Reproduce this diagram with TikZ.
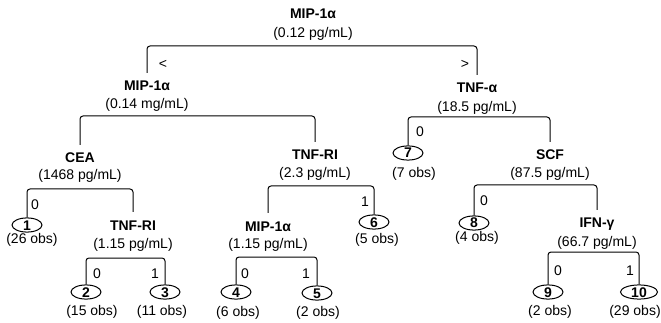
\documentclass[tikz,border=0pt]{standalone}
\usepackage{fontspec}
\setmainfont{Liberation Sans}
\usetikzlibrary{shapes.geometric}
\begin{document}
\begin{tikzpicture}[x=1pt,y=1pt,
  txt/.style={inner sep=0pt, text height=10pt, text depth=0pt, font=\fontsize{14}{16}\selectfont},
  ttl/.style={txt, font=\fontsize{14}{16}\selectfont\bfseries, outer ysep=8pt},
  val/.style={txt},
  lbl/.style={txt},
  leaf/.style={ellipse, draw, line width=1pt, minimum width=30pt, minimum height=13pt,
    inner sep=0pt, text height=10pt, text depth=0pt, font=\fontsize{14}{16}\selectfont\bfseries},
  br/.style={draw, line width=1pt, rounded corners=3pt}]
\useasboundingbox (0,0) rectangle (661,-323);

% root
\node[ttl] (r) at (313,-14) {MIP-1α};
\node[val] (rv) at (313,-33) {(0.12 pg/mL)};
\coordinate (rb) at (313,-46);
\node[ttl] (a) at (147,-86) {MIP-1α};
\node[val] (av) at (147,-104) {(0.14 mg/mL)};
\node[ttl] (b) at (477,-88) {TNF-α};
\node[val] (bv) at (477,-107) {(18.5 pg/mL)};
\draw[br] (a.north) |- (rb) -| (b.north);
\node[lbl] (lt) at (163,-64) {<};
\node[lbl] (gt) at (465,-64) {>};

% level 2 left
\coordinate (ab) at (147,-116);
\node[ttl] (c) at (80,-158) {CEA};
\node[val] (cv) at (80,-175) {(1468 pg/mL)};
\node[ttl] (d) at (315,-155) {TNF-RI};
\node[val] (dv) at (315,-173) {(2.3 pg/mL)};
\draw[br] (c.north) |- (ab) -| (d.north);

% level 2 right
\coordinate (bb) at (477,-117);
\node[leaf] (l7) at (408,-153) {7};
\node[val] (o7) at (414,-173) {(7 obs)};
\node[ttl] (e) at (550,-155) {SCF};
\node[val] (ev) at (550,-173) {(87.5 pg/mL)};
\draw[br] (l7.north) |- (bb) -| (e.north);
\node[lbl] (z7) at (420,-132) {0};

% CEA split
\coordinate (cb) at (80,-189);
\node[leaf] (l1) at (27,-225) {1};
\node[val] (o1) at (32,-238) {(26 obs)};
\node[ttl] (f) at (133,-225) {TNF-RI};
\node[val] (fv) at (133,-243) {(1.15 pg/mL)};
\draw[br] (l1.north) |- (cb) -| (f.north);
\node[lbl] (z1) at (35,-205) {0};

% TNF-RI (2.3) split
\coordinate (db) at (315,-186);
\node[ttl] (g) at (268,-226) {MIP-1α};
\node[val] (gv) at (268,-243) {(1.15 pg/mL)};
\node[leaf] (l6) at (374,-222) {6};
\node[val] (o6) at (377,-238) {(5 obs)};
\draw[br] (g.north) |- (db) -| (l6.north);
\node[lbl] (u6) at (365,-202) {1};

% SCF split
\coordinate (eb) at (550,-185);
\node[leaf] (l8) at (474,-223) {8};
\node[val] (o8) at (477,-236) {(4 obs)};
\node[ttl] (h) at (597,-223) {IFN-γ};
\node[val] (hv) at (597,-242) {(66.7 pg/mL)};
\draw[br] (l8.north) |- (eb) -| (h.north);
\node[lbl] (z8) at (484,-201) {0};

% TNF-RI (1.15) split
\coordinate (fb) at (126,-258);
\node[leaf] (l2) at (86,-292) {2};
\node[val] (o2) at (92,-310) {(15 obs)};
\node[leaf] (l3) at (165,-292) {3};
\node[val] (o3) at (162,-310) {(11 obs)};
\draw[br] (l2.north) |- (fb) -| (l3.north);
\node[lbl] (z2) at (97,-273) {0};
\node[lbl] (u3) at (155,-273) {1};

% MIP-1a (1.15) split
\coordinate (gb) at (276,-257);
\node[leaf] (l4) at (236,-292) {4};
\node[val] (o4) at (238,-311) {(6 obs)};
\node[leaf] (l5) at (317,-293) {5};
\node[val] (o5) at (318,-311) {(2 obs)};
\draw[br] (l4.north) |- (gb) -| (l5.north);
\node[lbl] (z4) at (245,-273) {0};
\node[lbl] (u5) at (306,-273) {1};

% IFN split
\coordinate (hb) at (594,-252);
\node[leaf] (l9) at (548,-292) {9};
\node[val] (o9) at (550,-310) {(2 obs)};
\node[leaf, minimum width=37pt] (l10) at (639,-292) {10};
\node[val] (o10) at (635,-310) {(29 obs)};
\draw[br] (l9.north) |- (hb) -| (l10.north);
\node[lbl] (z9) at (558,-270) {0};
\node[lbl] (u10) at (630,-270) {1};
\end{tikzpicture}
\end{document}
